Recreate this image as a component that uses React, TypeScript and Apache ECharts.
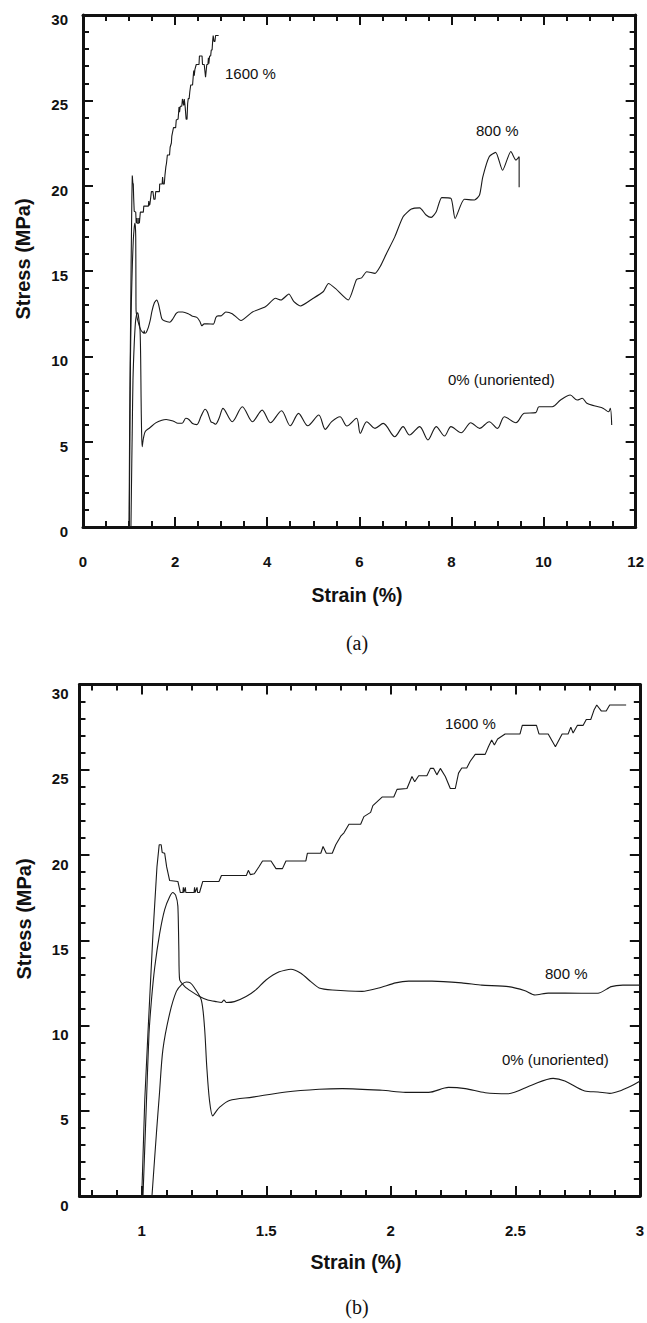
import React, { useEffect, useRef } from "react";
import * as echarts from "echarts";

// ---------- data: [strain %, stress MPa] ----------
const draw1600: [number, number][] = [
  [1.0, 0], [1.012, 5.6], [1.025, 9.6], [1.045, 15.4], [1.061, 19.3], [1.07, 20.6], [1.078, 20.6],
  [1.082, 20.15], [1.092, 20.1], [1.1, 19.3], [1.112, 18.5], [1.145, 18.45], [1.155, 17.8],
  [1.165, 17.8], [1.167, 18.1], [1.169, 17.8], [1.175, 18.1], [1.177, 17.8], [1.21, 17.8],
  [1.212, 18.1], [1.214, 17.8], [1.222, 18.1], [1.224, 17.8], [1.232, 17.8], [1.245, 18.45],
  [1.31, 18.45], [1.32, 18.8], [1.42, 18.8], [1.428, 19.1], [1.436, 18.85], [1.452, 18.9],
  [1.47, 19.3], [1.485, 19.65], [1.519, 19.65], [1.539, 19.2], [1.565, 19.2], [1.579, 19.65],
  [1.659, 19.65], [1.665, 20.1], [1.719, 20.1], [1.728, 20.5], [1.741, 20.1], [1.765, 20.1],
  [1.779, 20.6], [1.799, 21.1], [1.812, 21.3], [1.832, 21.8], [1.879, 21.8], [1.892, 22.25],
  [1.919, 22.5], [1.928, 22.9], [1.965, 23.4], [2.012, 23.4], [2.025, 23.85], [2.065, 23.9],
  [2.085, 24.6], [2.096, 24.3], [2.112, 24.65], [2.145, 24.65], [2.159, 25.08], [2.172, 25.08],
  [2.185, 24.7], [2.199, 25.08], [2.219, 24.6], [2.239, 23.9], [2.259, 23.9], [2.272, 24.8],
  [2.285, 25.1], [2.305, 25.1], [2.319, 25.5], [2.339, 25.9], [2.379, 25.9], [2.392, 26.35],
  [2.405, 26.75], [2.416, 26.45], [2.429, 26.8], [2.459, 27.1], [2.519, 27.1], [2.528, 27.6],
  [2.585, 27.6], [2.595, 27.1], [2.632, 27.1], [2.661, 26.35], [2.688, 27.1], [2.712, 27.1],
  [2.723, 27.5], [2.732, 27.15], [2.749, 27.6], [2.772, 27.6], [2.785, 27.95], [2.803, 27.95],
  [2.816, 28.5], [2.827, 28.8], [2.845, 28.45], [2.865, 28.45], [2.879, 28.8], [2.945, 28.8],
];

const draw800: [number, number][] = [
  [1.005, 0], [1.019, 5.6], [1.029, 9.5], [1.039, 11.5], [1.052, 13.4], [1.072, 15.4],
  [1.092, 16.8], [1.112, 17.55], [1.125, 17.8], [1.136, 17.65], [1.145, 17.0], [1.149, 14.4],
  [1.152, 12.7], [1.172, 12.3], [1.199, 12.0], [1.232, 11.7], [1.265, 11.5], [1.299, 11.4],
  [1.32, 11.35], [1.33, 11.5], [1.34, 11.35], [1.372, 11.4], [1.419, 11.7], [1.459, 12.1],
  [1.499, 12.67], [1.552, 13.15], [1.599, 13.3], [1.639, 13.06], [1.679, 12.57], [1.712, 12.2],
  [1.765, 12.08], [1.885, 12.0], [1.952, 12.2], [2.019, 12.5], [2.072, 12.6], [2.165, 12.6],
  [2.285, 12.5], [2.365, 12.37], [2.472, 12.28], [2.539, 12.04], [2.579, 11.79], [2.632, 11.9],
  [2.699, 11.9], [2.832, 11.89], [2.885, 12.28], [2.932, 12.37], [3.0, 12.37], [3.1, 12.6],
  [3.24, 12.5], [3.43, 12.1], [3.68, 12.6], [3.96, 12.9], [4.18, 13.4], [4.3, 13.3],
  [4.47, 13.65], [4.58, 13.2], [4.72, 12.95], [4.97, 13.35], [5.22, 13.8], [5.33, 14.27],
  [5.48, 13.98], [5.76, 13.3], [5.94, 14.5], [6.05, 14.6], [6.16, 14.96], [6.34, 14.86],
  [6.45, 15.25], [6.59, 16.03], [6.77, 17.0], [6.95, 18.18], [7.13, 18.63], [7.31, 18.7],
  [7.45, 18.28], [7.56, 18.14], [7.67, 18.47], [7.79, 19.3], [7.99, 19.25], [8.08, 18.08],
  [8.28, 19.2], [8.5, 19.16], [8.61, 19.45], [8.68, 20.5], [8.82, 21.7], [8.96, 21.95],
  [9.11, 20.9], [9.29, 22.0], [9.4, 21.5], [9.47, 21.7], [9.47, 19.9],
];

const draw0: [number, number][] = [
  [1.041, 0], [1.059, 3.7], [1.071, 6.0], [1.085, 8.6], [1.112, 10.7], [1.139, 12.0],
  [1.16, 12.4], [1.179, 12.55], [1.195, 12.5], [1.212, 12.2], [1.239, 11.5], [1.252, 9.9],
  [1.261, 7.6], [1.272, 5.6], [1.285, 4.7], [1.298, 4.95], [1.312, 5.2], [1.352, 5.6],
  [1.445, 5.8], [1.579, 6.1], [1.712, 6.26], [1.805, 6.3], [1.965, 6.2], [2.059, 6.08],
  [2.152, 6.08], [2.232, 6.37], [2.299, 6.3], [2.379, 6.06], [2.472, 6.0], [2.565, 6.5],
  [2.652, 6.9], [2.699, 6.75], [2.779, 6.16], [2.832, 6.1], [2.879, 6.02], [2.919, 6.16],
  [2.965, 6.45], [3.04, 6.95], [3.24, 6.17], [3.46, 7.05], [3.68, 6.17], [3.89, 6.85],
  [4.07, 6.11], [4.31, 6.81], [4.5, 5.93], [4.68, 6.66], [4.88, 5.93], [5.12, 6.56],
  [5.26, 5.72], [5.4, 6.17], [5.58, 6.46], [5.73, 5.92], [5.94, 6.37], [6.02, 5.49],
  [6.16, 6.17], [6.34, 5.78], [6.52, 6.07], [6.77, 5.29], [6.95, 5.88], [7.09, 5.39],
  [7.31, 5.88], [7.49, 5.1], [7.67, 5.88], [7.85, 5.33], [7.99, 5.88], [8.21, 5.52],
  [8.42, 6.11], [8.61, 5.78], [8.82, 6.17], [9.0, 5.78], [9.15, 6.46], [9.4, 6.11],
  [9.58, 6.66], [9.83, 6.7], [9.9, 7.05], [10.19, 7.05], [10.37, 7.44], [10.58, 7.73],
  [10.73, 7.44], [10.84, 7.54], [10.94, 7.25], [11.12, 7.09], [11.3, 6.95], [11.41, 6.75],
  [11.45, 6.95], [11.48, 5.98],
];

// tick labels / tick positions
const bMajorX = [1, 1.5, 2, 2.5, 3];
const bMinorX = [0.8, 0.9, 1.1, 1.2, 1.3, 1.4, 1.6, 1.7, 1.8, 1.9, 2.1, 2.2, 2.3, 2.4, 2.6, 2.7, 2.8, 2.9];
const seriesNames = ["1600 %", "800 %", "0% (unoriented)"];

const FONT = "'Liberation Sans', Arial, Helvetica, sans-serif";
const INK = "#111";

export default function App() {
  const ref = useRef<HTMLDivElement>(null);

  useEffect(() => {
    document.body.style.margin = "0";
    const chart = echarts.init(ref.current!, null, { renderer: "svg" });

    const axisLine = () => ({ show: true, onZero: false, lineStyle: { color: INK, width: 3 } });
    const tick = (len: number, extra: any = {}) => ({
      show: true, inside: true, length: len, lineStyle: { color: INK, width: 2 }, ...extra,
    });
    const minor = (n: number) => ({ show: true, splitNumber: n, length: 6, lineStyle: { color: INK, width: 2 } });
    const label = (extra: any = {}) => ({
      show: true, color: INK, fontSize: 15, fontWeight: "bold", fontFamily: FONT, ...extra,
    });

    const xA = (pos: string, showLabel: boolean) => ({
      type: "value", gridIndex: 0, position: pos, min: 0, max: 12, interval: 2,
      axisLine: axisLine(), axisTick: tick(10), minorTick: minor(4), splitLine: { show: false },
      axisLabel: showLabel ? label({ margin: 27 }) : { show: false },
    });
    const yA = (pos: string, showLabel: boolean, grid: number, pad: number, margin: number) => ({
      type: "value", gridIndex: grid, position: pos, min: 0, max: 30, interval: 5,
      axisLine: axisLine(), axisTick: tick(10), minorTick: minor(5), splitLine: { show: false },
      axisLabel: showLabel
        ? label({ margin, formatter: "{v|{value}}", rich: { v: { fontSize: 15, fontWeight: "bold", fontFamily: FONT, color: INK, padding: [pad, 0, 0, 0] } } })
        : { show: false },
    });
    const xB = (pos: string, values: number[], len: number, showLine: boolean, showLabel: boolean) => ({
      type: "value", gridIndex: 1, position: pos, min: 0.75, max: 3,
      axisLine: showLine ? axisLine() : { show: false, onZero: false },
      axisTick: tick(len, { customValues: values }),
      splitLine: { show: false },
      axisLabel: showLabel ? label({ margin: 27, customValues: bMajorX }) : { show: false },
    });

    const lineSeries = (name: string, data: [number, number][], xi: number, yi: number, smooth: number) => ({
      type: "line", name, data, xAxisIndex: xi, yAxisIndex: yi, showSymbol: false, symbol: "none",
      smooth, lineStyle: { color: "#1a1a1a", width: 1.1 },
    });

    const text = (t: string, x: number, y: number, extra: any = {}) => ({
      type: "text", x, y, silent: true,
      style: { text: t, fill: INK, fontSize: 15, fontFamily: FONT, align: "left", verticalAlign: "middle", ...extra },
    });

    chart.setOption({
      animation: false,
      grid: [
        { left: 83, top: 15, width: 555, height: 512 },
        { left: 79.5, top: 684.5, width: 562.5, height: 511.5 },
      ],
      xAxis: [
        xA("bottom", true),
        xA("top", false),
        xB("bottom", bMajorX, 10, true, true),
        xB("bottom", bMinorX, 6, false, false),
        xB("top", bMajorX, 10, true, false),
        xB("top", bMinorX, 6, false, false),
      ],
      yAxis: [
        yA("left", true, 0, 9, 15),
        yA("right", false, 0, 0, 0),
        yA("left", true, 1, 18, 11),
        yA("right", false, 1, 0, 0),
      ],
      series: [
        lineSeries(seriesNames[0], draw1600, 0, 0, 0),
        lineSeries(seriesNames[1], draw800, 0, 0, 0.2),
        lineSeries(seriesNames[2], draw0, 0, 0, 0.3),
        lineSeries(seriesNames[0], draw1600, 2, 2, 0),
        lineSeries(seriesNames[1], draw800, 2, 2, 0.2),
        lineSeries(seriesNames[2], draw0, 2, 2, 0.3),
      ],
      graphic: [
        text(seriesNames[0], 225, 73),
        text(seriesNames[1], 476, 130),
        text(seriesNames[2], 448, 379),
        text(seriesNames[0], 445, 723),
        text(seriesNames[1], 545, 973),
        text(seriesNames[2], 502, 1059),
        { ...text("Stress (MPa)", 22.5, 259, { fontSize: 20, fontWeight: "bold", align: "center" }), rotation: Math.PI / 2 },
        { ...text("Stress (MPa)", 24, 919, { fontSize: 20, fontWeight: "bold", align: "center" }), rotation: Math.PI / 2 },
        text("Strain (%)", 357, 595, { fontSize: 19.5, fontWeight: "bold", align: "center" }),
        text("Strain (%)", 356, 1262, { fontSize: 19.5, fontWeight: "bold", align: "center" }),
        text("(a)", 357, 643, { fontSize: 20, fontFamily: "'Liberation Serif', 'Times New Roman', serif", align: "center" }),
        text("(b)", 357, 1307, { fontSize: 20, fontFamily: "'Liberation Serif', 'Times New Roman', serif", align: "center" }),
      ],
    });

    return () => chart.dispose();
  }, []);

  return <div ref={ref} style={{ width: 647, height: 1323 }} />;
}
